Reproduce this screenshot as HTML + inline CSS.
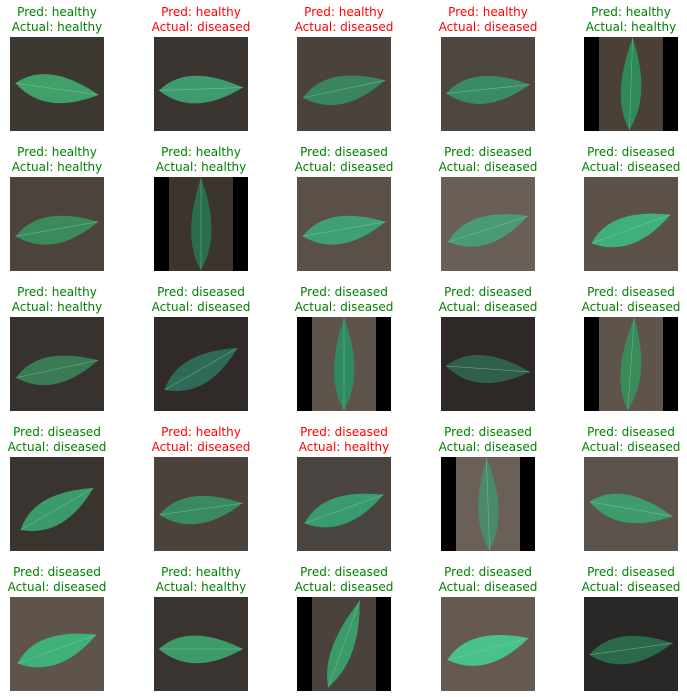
<!DOCTYPE html>
<html><head><meta charset="utf-8">
<style>
html,body{margin:0;padding:0;background:#fff;}
#fig{position:relative;width:687px;height:697px;overflow:hidden;font-family:"DejaVu Sans","Liberation Sans",sans-serif;}
.title{position:absolute;width:160px;text-align:center;font-size:12px;line-height:15px;}
.img{position:absolute;width:94px;height:94px;}
</style></head>
<body>
<div id="fig"></div>
<script>
const preds=["healthy","healthy","healthy","healthy","healthy",
"healthy","healthy","diseased","diseased","diseased",
"healthy","diseased","diseased","diseased","diseased",
"diseased","healthy","diseased","diseased","diseased",
"diseased","healthy","diseased","diseased","diseased"];
const actuals=["healthy","diseased","diseased","diseased","healthy",
"healthy","healthy","diseased","diseased","diseased",
"healthy","diseased","diseased","diseased","diseased",
"diseased","diseased","healthy","diseased","diseased",
"diseased","healthy","diseased","diseased","diseased"];
const bgs=["#3e3833","#3a3531","#4a423c","#4e4640","#4a4038",
"#4c433c","#3c342e","#5a5048","#6a5f57","#5c5149",
"#38322e","#302b28","#5e544c","#2e2926","#5e544c",
"#3a3430","#4a423b","#4a4540","#6a6058","#5c534c",
"#5e544c","#3a3430","#4a423c","#665a50","#2a2826"];
const verticals=[0,0,0,0,1, 0,1,0,0,0, 0,0,1,0,1, 0,0,0,1,0, 0,0,1,0,0];
const angles=[8,-2,-12,-6,-88, -10,-90,-10,-18,-20, -12,-30,-90,4,-86, -30,-8,-20,-92,10, -20,0,-70,-15,-8];
const leafCols=["#3fa06a","#3f9a70","#3a8560","#3a8a68","#2f8a58",
"#3a8a5c","#2a6e4e","#3fa078","#4a9a78","#40b07a",
"#3a7a55","#2e6a58","#2f8a62","#30604a","#3a8a5a",
"#3a9a6a","#3a8a60","#3a9a70","#4a8a6a","#3f9a6c",
"#3fb078","#3f9a6a","#3a9a68","#4ac08a","#2a6a4a"];
const colX=[10,154,297,441,584];
const rowY=[37,177,317,457,597];
const fig=document.getElementById('fig');
const NS="http://www.w3.org/2000/svg";
for(let i=0;i<25;i++){
  const r=Math.floor(i/5),c=i%5;
  const x=colX[c],y=rowY[r];
  const ok=preds[i]===actuals[i];
  const t=document.createElement('div');
  t.className='title';
  
  
  t.style.left=(x+47-80)+'px';t.style.top=(y-32)+'px';
  t.style.color=ok?'#008000':'#ff0000';
  t.innerHTML='Pred: '+preds[i]+'<br>Actual: '+actuals[i];
  fig.appendChild(t);
  const s=document.createElementNS(NS,'svg');
  s.setAttribute('class','img');
  
  
  s.setAttribute('viewBox','0 0 94 94');
  s.style.left=x+'px';s.style.top=y+'px';
  let h='<rect width="94" height="94" fill="'+bgs[i]+'"/>';
  if(verticals[i]){h+='<rect width="15" height="94" fill="#000"/><rect x="79" width="15" height="94" fill="#000"/>';}
  const L=verticals[i]?46:42, W=verticals[i]?11:15;
  h+='<g transform="translate(47,'+(verticals[i]?47:52)+') rotate('+angles[i]+')">'+
     '<path d="M'+(-L)+',0 Q'+(-L*0.3)+','+(-W*1.8)+' '+L+',0 Q'+(-L*0.2)+','+(W*1.9)+' '+(-L)+',0Z" fill="'+leafCols[i]+'"/>'+
     '<line x1="'+(-L)+'" y1="0" x2="'+L+'" y2="0" stroke="#8fd0b0" stroke-width="0.6" opacity="0.6"/></g>';
  s.innerHTML=h;
  fig.appendChild(s);
}
</script>
</body></html>
